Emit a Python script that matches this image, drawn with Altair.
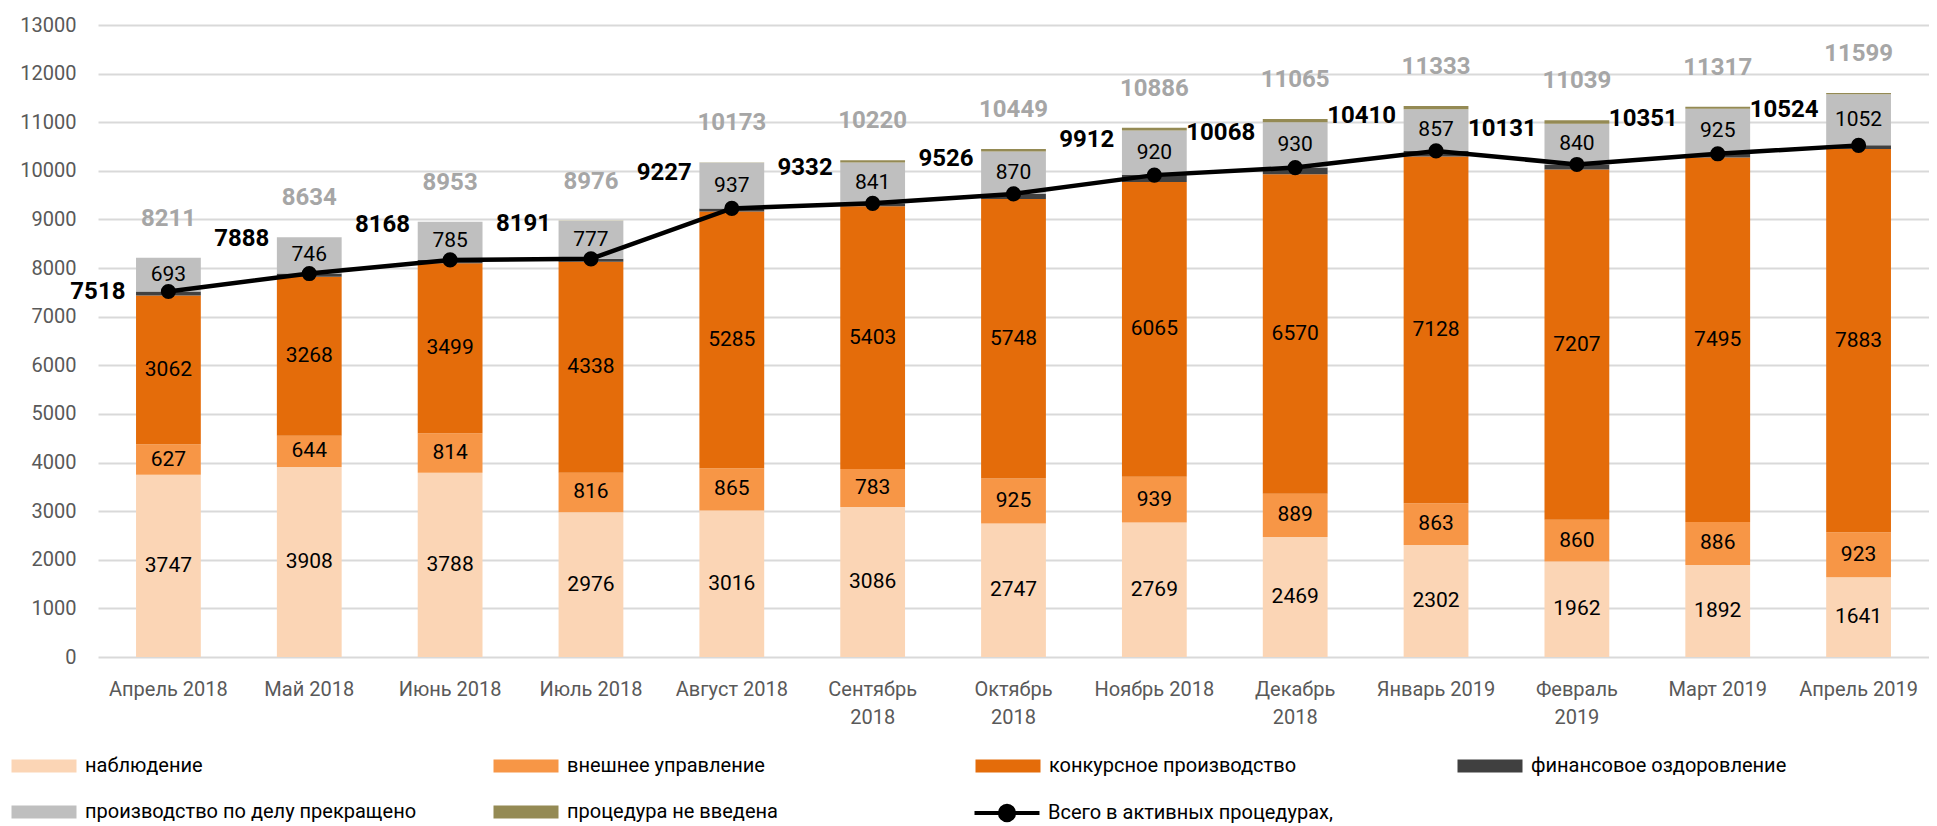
import altair as alt
import pandas as pd

months = ["Апрель 2018", "Май 2018", "Июнь 2018", "Июль 2018", "Август 2018",
          "Сентябрь 2018", "Октябрь 2018", "Ноябрь 2018", "Декабрь 2018",
          "Январь 2019", "Февраль 2019", "Март 2019", "Апрель 2019"]
wrapped = ["Сентябрь 2018", "Октябрь 2018", "Декабрь 2018", "Февраль 2019"]

series = ["наблюдение", "внешнее управление", "конкурсное производство",
          "финансовое оздоровление", "производство по делу прекращено",
          "процедура не введена"]
colors = ["#FBD5B5", "#F79646", "#E46C0A", "#404040", "#BFBFBF", "#948A54"]

nabl = [3747, 3908, 3788, 2976, 3016, 3086, 2747, 2769, 2469, 2302, 1962, 1892, 1641]
vnesh = [627, 644, 814, 816, 865, 783, 925, 939, 889, 863, 860, 886, 923]
konk = [3062, 3268, 3499, 4338, 5285, 5403, 5748, 6065, 6570, 7128, 7207, 7495, 7883]
fin = [82, 68, 67, 61, 61, 60, 106, 139, 140, 117, 102, 78, 77]
prekr = [693, 746, 785, 777, 937, 841, 870, 920, 930, 857, 840, 925, 1052]
nevv = [0, 0, 0, 8, 9, 47, 53, 54, 67, 66, 68, 41, 23]
active = [7518, 7888, 8168, 8191, 9227, 9332, 9526, 9912, 10068, 10410, 10131, 10351, 10524]
total = [8211, 8634, 8953, 8976, 10173, 10220, 10449, 10886, 11065, 11333, 11039, 11317, 11599]

line_name = "Всего в активных процедурах,"

cols = [nabl, vnesh, konk, fin, prekr, nevv]
rows = []
for i, m in enumerate(months):
    for j, s in enumerate(series):
        rows.append({"month": m, "series": s, "order": j, "value": cols[j][i]})
long_df = pd.DataFrame(rows)
wide_df = pd.DataFrame({"month": months, "active": active, "total": total,
                        "name": [line_name] * len(months)})

FONT = "Roboto"
wrap_list = "[" + ",".join("'" + w + "'" for w in wrapped) + "]"

x_enc = alt.X("month:N", sort=months,
              scale=alt.Scale(paddingInner=0.54, paddingOuter=0.27),
              axis=alt.Axis(title=None, labelAngle=0, ticks=False, domain=False,
                            grid=False, labelFont=FONT, labelFontSize=20,
                            labelColor="#595959", labelPadding=22,
                            labelLineHeight=28, labelLimit=300,
                            labelExpr="indexof(" + wrap_list + ", datum.value) >= 0 ? split(datum.value, ' ') : datum.value"))
y_axis = alt.Axis(title=None, values=list(range(0, 13001, 1000)), format="d",
                  ticks=False, domain=False, grid=True, gridColor="#D9D9D9",
                  gridWidth=2, labelFont=FONT, labelFontSize=20,
                  labelColor="#595959", labelPadding=22)
y_scale = alt.Scale(domain=[0, 13000], nice=False)

stacked = alt.Chart(long_df).transform_stack(
    stack="value", groupby=["month"], sort=[alt.SortField("order", "ascending")],
    as_=["y0", "y1"])

bars = stacked.mark_bar().encode(
    x=x_enc,
    y=alt.Y("y0:Q", scale=y_scale, axis=y_axis),
    y2="y1:Q",
    color=alt.Color("series:N", scale=alt.Scale(domain=series, range=colors),
                    legend=alt.Legend(title=None, orient="none", legendX=-90, legendY=731,
                                      direction="horizontal", columns=4, gridAlign="all",
                                      symbolType="M-1,-1H9V1H-1Z", symbolSize=169,
                                      symbolStrokeWidth=0, labelFont=FONT,
                                      labelFontSize=20, labelColor="black",
                                      labelOffset=57, labelLimit=600,
                                      rowPadding=26, columnPadding=73)),
    order=alt.Order("order:Q"),
)

seg_labels = stacked.transform_filter(
    "datum.order != 3 && datum.order != 5"
).transform_calculate(mid="(datum.y0 + datum.y1) / 2").mark_text(
    font=FONT, fontSize=21, color="black", baseline="middle"
).encode(x=x_enc, y=alt.Y("mid:Q", scale=y_scale, axis=y_axis), text="value:Q")

base_w = alt.Chart(wide_df)

total_labels = base_w.mark_text(font=FONT, fontSize=24, fontWeight="bold",
                                color="#A6A6A6", baseline="middle", dy=-39).encode(
    x=x_enc, y=alt.Y("total:Q", scale=y_scale, axis=y_axis), text="total:Q")

line = base_w.mark_line(strokeWidth=4.5).encode(
    x=x_enc, y=alt.Y("active:Q", scale=y_scale, axis=y_axis),
    stroke=alt.Stroke("name:N", scale=alt.Scale(domain=[line_name], range=["black"]),
                      legend=alt.Legend(title=None, orient="none", legendX=873, legendY=778,
                                        symbolType="M-1,0H9M4,-1.1A1.1,1.1 0 1,1 4,1.1A1.1,1.1 0 1,1 4,-1.1Z",
                                        symbolSize=169, symbolStrokeWidth=4,
                                        symbolFillColor="black", symbolStrokeColor="black",
                                        labelFont=FONT, labelFontSize=20, labelColor="black",
                                        labelOffset=57, labelLimit=600)))

points = base_w.mark_circle(size=230, color="black", opacity=1).encode(
    x=x_enc, y=alt.Y("active:Q", scale=y_scale, axis=y_axis))

active_labels = base_w.transform_filter(
    alt.datum.month != months[0]).mark_text(
    font=FONT, fontSize=24, fontWeight="bold", color="black", align="right",
    baseline="middle", dx=-40, dy=-35).encode(
    x=x_enc, y=alt.Y("active:Q", scale=y_scale, axis=y_axis), text="active:Q")

first_label = base_w.transform_filter(
    alt.datum.month == months[0]).mark_text(
    font=FONT, fontSize=24, fontWeight="bold", color="black", align="right",
    baseline="middle", dx=-43, dy=0).encode(
    x=x_enc, y=alt.Y("active:Q", scale=y_scale, axis=y_axis), text="active:Q")

chart = alt.layer(bars, seg_labels, total_labels, line, points, active_labels, first_label).properties(
    width=1831, height=632,
    autosize=alt.AutoSizeParams(type="none"),
    padding={"left": 90, "top": 17, "right": 0, "bottom": 170},
).configure_view(stroke=None)

chart.save("out.html", embed_options={"renderer": "svg", "actions": False})
